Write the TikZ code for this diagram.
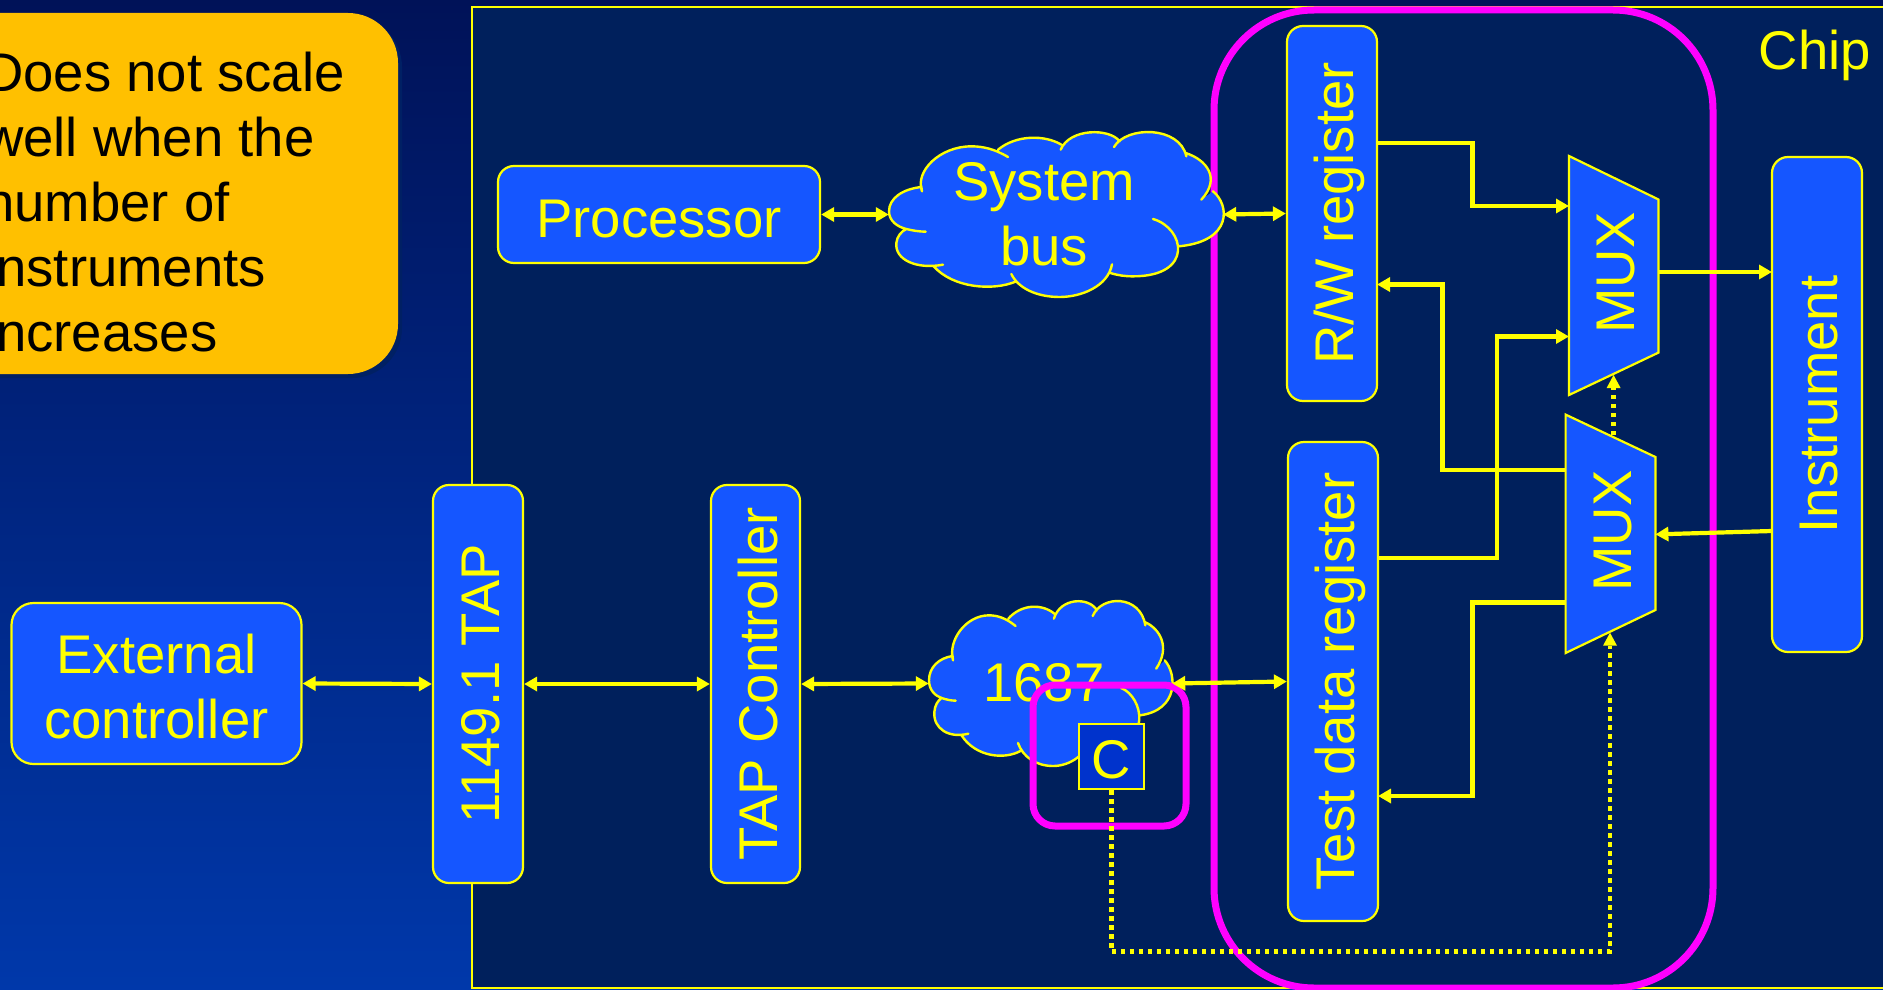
\documentclass[tikz,border=0pt]{standalone}
\usepackage{fontspec}
\setmainfont{Liberation Sans}
\usetikzlibrary{arrows.meta}
\definecolor{ylw}{HTML}{FFFF00}
\definecolor{mag}{HTML}{FF00FF}
\definecolor{boxblue}{HTML}{1556FF}
\definecolor{chipblue}{HTML}{00205C}
\definecolor{cblue}{HTML}{0033CC}
\definecolor{notegold}{HTML}{FFC000}
\newcommand\bigf{\fontsize{54.5}{65}\selectfont}
\newcommand\vt[2]{\hspace*{#1}\rotatebox{90}{#2}}
\def\cloudsegs#1{(187,275) .. controls (165,215) and (240,140) .. (335,140) .. controls (370,140) and (405,148) .. (445,172) #1
(415,150) .. controls (470,105) and (555,105) .. (605,135) #1
(603,150) .. controls (630,85) and (750,85) .. (780,125) #1
(763,142) .. controls (800,78) and (960,78) .. (980,170) #1
(978,160) .. controls (1040,180) and (1085,235) .. (1025,300) #1
(1060,275) .. controls (1110,315) and (1120,425) .. (957,440) #1
(880,358) .. controls (975,385) and (1005,530) .. (820,530) .. controls (795,530) and (775,527) .. (752,520) #1
(757,494) .. controls (745,560) and (665,592) .. (600,592) .. controls (530,592) and (475,565) .. (455,523) #1
(470,545) .. controls (400,575) and (280,565) .. (222,500) #1
(250,495) .. controls (170,510) and (105,480) .. (110,430) .. controls (112,410) and (125,395) .. (140,388) #1
(198,396) .. controls (180,396) and (160,393) .. (140,388) .. controls (115,382) and (88,365) .. (88,335) .. controls (88,295) and (130,268) .. (185,262) -- (187,275)}
\newcommand\cloudat[3]{\begin{scope}[shift={(#1,#2)},x=#3pt,y=-0.33333pt]
\fill[boxblue] \cloudsegs{--};
\draw[ylw,line width=2.4pt,line cap=round] \cloudsegs{};
\end{scope}}
\tikzset{
 box/.style={draw=ylw,fill=boxblue,line width=2.2pt,rounded corners=#1,text=ylw,font=\bigf,inner sep=0pt,align=center},
 box/.default=16pt,
 cloudlabel/.style={text=ylw,font=\bigf,inner sep=0pt,align=center},
 muxshape/.style={draw=ylw,fill=boxblue,line width=2.2pt,line join=miter},
 wire/.style={draw=ylw,line width=4.2pt},
 both/.style={wire,{Triangle[length=13pt,width=14pt]}-{Triangle[length=13pt,width=14pt]}},
 one/.style={wire,-{Triangle[length=13pt,width=14pt]}},
 ctrl/.style={draw=ylw,line width=4.5pt,dash pattern=on 4.5pt off 4.5pt,-{Triangle[length=13pt,width=14pt,line width=0pt]}},
 ring/.style={draw=mag,line width=7pt}
}
\begin{document}
\begin{tikzpicture}[x=1pt,y=-1pt]
\useasboundingbox (0,0) rectangle (1883,990);
% background
\shade[top color={rgb,255:red,0;green,18;blue,88},bottom color={rgb,255:red,0;green,56;blue,170}] (0,0) rectangle (1883,990);
% chip
\draw[ylw,line width=2pt,fill=chipblue] (472,7) rectangle (1900,988);
\node[anchor=base east,text=ylw,font=\bigf,inner sep=0pt] (chip) at (1871,70) {Chip};
% big magenta ring
\draw[ring,rounded corners=100pt] (1214,10) rectangle (1713,988);
% note
\fill[rounded corners=50pt,fill={rgb,255:red,0;green,32;blue,100}] (-50,17) rectangle (402,378);
\fill[notegold,rounded corners=50pt] (-50,13) rectangle (398,374);
\node[anchor=north west,font=\bigf,align=left,inner sep=0pt,text=black] (note) at (-16,51.5)
 {Does not scale\\well when the\\number of\\instruments\\increases};
% boxes
\node[box=22pt,minimum width=290pt,minimum height=161pt] (ext) at (156.5,683.5) {\rule{0pt}{45pt}External\\controller};
\node[box=16pt,minimum width=90pt,minimum height=398pt] (tap) at (478,684) {\vt{5pt}{1149.1 TAP}};
\node[box=16pt,minimum width=89pt,minimum height=398pt] (ctl) at (755.5,684) {\vt{5pt}{TAP Controller}};
\node[box=16pt,minimum width=322pt,minimum height=97pt,text height=45pt,text depth=0pt] (proc) at (659,214.5) {Processor};
\node[box=16pt,minimum width=90pt,minimum height=375pt] (rw) at (1332,213.5) {\vt{14pt}{R/W register}};
\node[box=16pt,minimum width=90pt,minimum height=479pt] (tdr) at (1333,681.5) {\vt{14pt}{Test data register}};
\node[box=16pt,minimum width=90pt,minimum height=495pt] (inst) at (1817,404.5) {\vt{3pt}{Instrument}};
% clouds
\cloudat{859.67}{99.67}{0.33333}
\node[minimum width=334pt,minimum height=165pt,inner sep=0pt] (bus) at (1056,214.5) {};
\node[cloudlabel] (bustext) at (1044,214.5) {System\\bus};
\cloudat{907.66}{568.67}{0.2425}
\node[minimum width=243pt,minimum height=165pt,inner sep=0pt] (ieee) at (1050.5,683.5) {};
\node[cloudlabel] (ieeetext) at (1044,683) {1687};
% small magenta ring
\draw[ring,rounded corners=22pt] (1033,685) rectangle (1186,826);
% C box
\node[draw=ylw,fill=cblue,line width=2pt,text=ylw,font=\bigf,minimum width=65pt,minimum height=65pt,inner sep=0pt,text height=44pt,text depth=0pt] (c) at (1111.5,756.5) {C};
% muxes
\coordinate (m1tl) at (1569,156);
\coordinate (m1tr) at (1658.5,199.5);
\coordinate (m1br) at (1658.5,352.6);
\coordinate (m1bl) at (1569,395);
\coordinate (m2tl) at (1565.6,414.6);
\coordinate (m2tr) at (1655.4,457);
\coordinate (m2br) at (1655.4,610);
\coordinate (m2bl) at (1565.6,653);
\draw[muxshape] (m1tl) -- (m1tr) -- (m1br) -- (m1bl) -- cycle;
\draw[muxshape] (m2tl) -- (m2tr) -- (m2br) -- (m2bl) -- cycle;
\node[cloudlabel] (mux1) at (1616.5,273) {\vt{0pt}{MUX}};
\node[cloudlabel] (mux2) at (1613,531) {\vt{0pt}{MUX}};
% connectors
\draw[both] (proc.east) -- (bus.west);
\draw[both] (bus.east) -- (rw.west);
\draw[both] (ext.east) -- (tap.west);
\draw[both] (tap.east) -- (ctl.west);
\draw[both] (ctl.east) -- (ieee.west);
\draw[both] (ieee.east) -- (tdr.west);
\coordinate (a0) at (1377,143);
\coordinate (a1) at (1472.4,143);
\coordinate (a2) at (1472.4,206);
\coordinate (a3) at (1569,206);
\draw[one,line join=miter] (a0) -- (a1) -- (a2) -- (a3);
\coordinate (b0) at (1658.5,272);
\coordinate (b1) at (1772,272);
\draw[one] (b0) -- (b1);
\coordinate (d0) at (1565.6,469.7);
\coordinate (d1) at (1442.5,469.7);
\coordinate (d2) at (1442.5,284.5);
\coordinate (d3) at (1377,284.5);
\draw[one] (d0) -- (d1) -- (d2) -- (d3);
\coordinate (e0) at (1378,558);
\coordinate (e1) at (1496.6,558);
\coordinate (e2) at (1496.6,336.5);
\coordinate (e3) at (1569,336.5);
\draw[one] (e0) -- (e1) -- (e2) -- (e3);
\coordinate (f0) at (1565.6,602.5);
\coordinate (f1) at (1472.4,602.5);
\coordinate (f2) at (1472.4,796);
\coordinate (f3) at (1378,796);
\draw[one] (f0) -- (f1) -- (f2) -- (f3);
\coordinate (g0) at (1772,531);
\coordinate (g1) at (1655.4,534.4);
\draw[one] (g0) -- (g1);
\coordinate (h0) at (1613.6,435);
\coordinate (h1) at (1613.6,375);
\draw[ctrl] (h0) -- (h1);
\coordinate (k1) at (1111.5,951.7);
\coordinate (k2) at (1610,951.7);
\coordinate (k3) at (1610,632.7);
\draw[ctrl] (c.south) -- (k1) -- (k2) -- (k3);
\end{tikzpicture}
\end{document}
